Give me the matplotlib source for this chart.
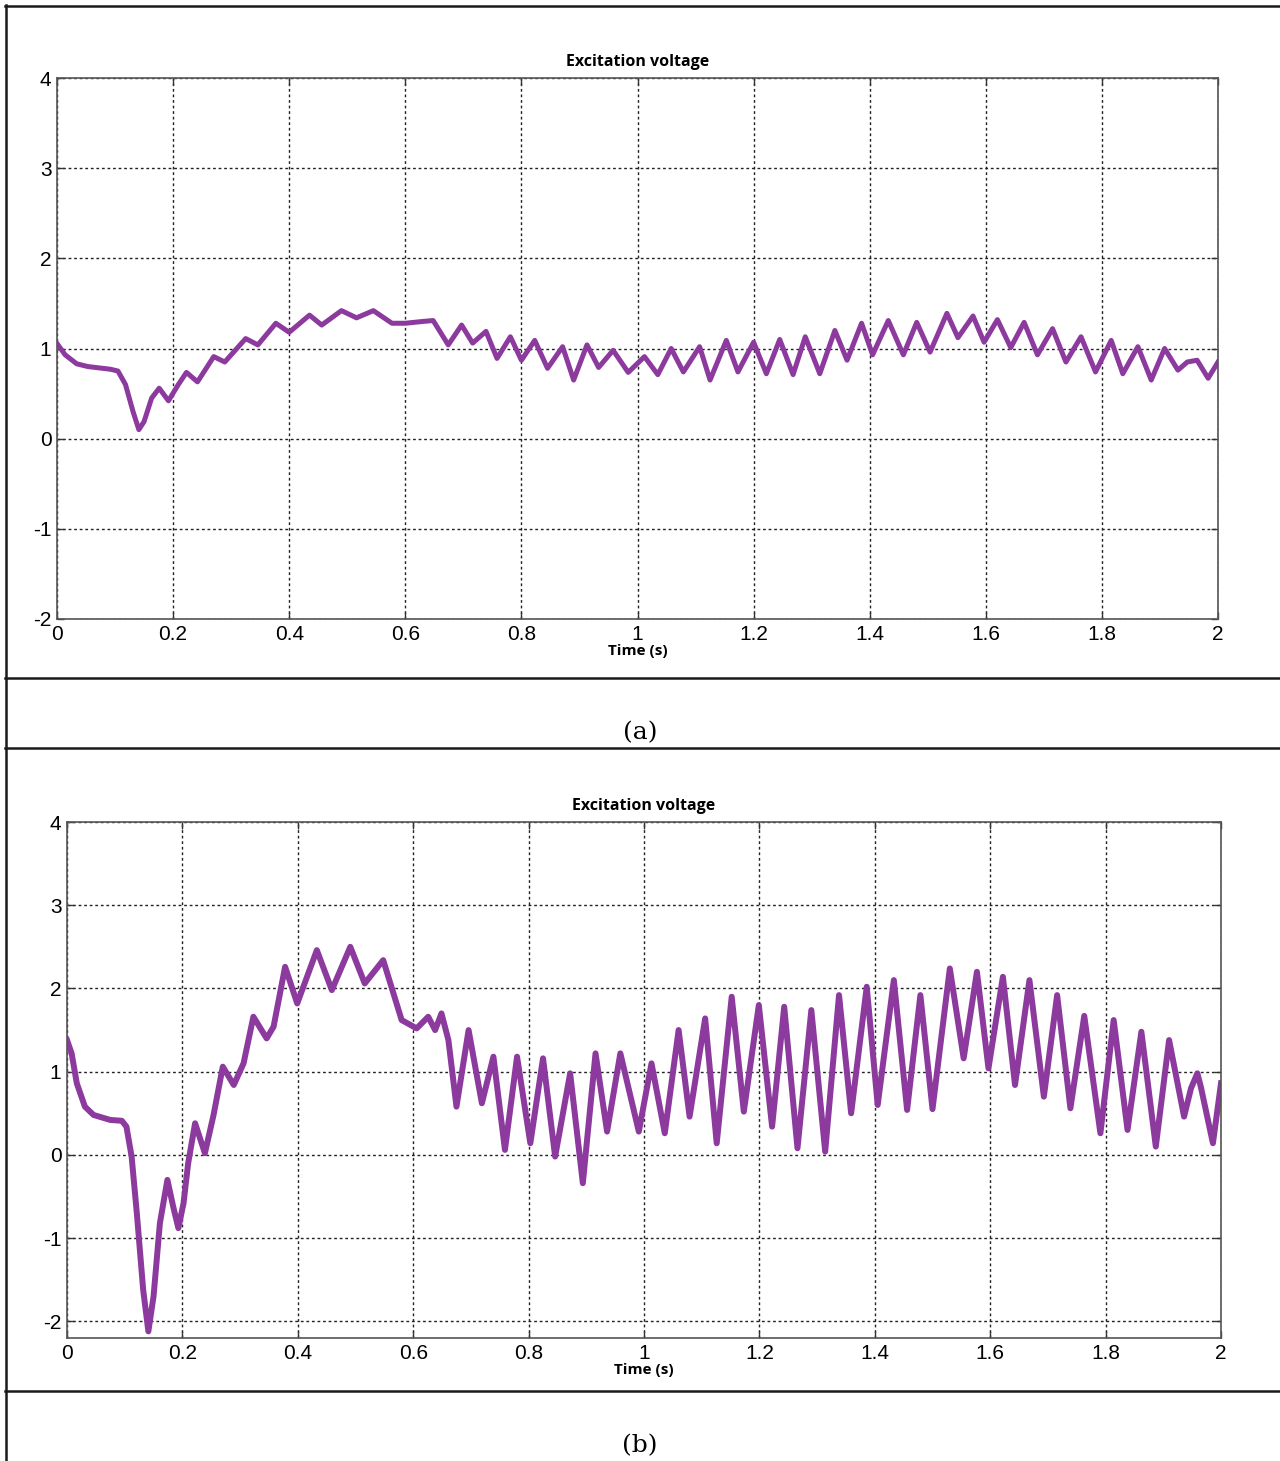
import matplotlib
matplotlib.use("Agg")
import matplotlib.pyplot as plt
from matplotlib.lines import Line2D

plt.rcParams['axes.unicode_minus'] = False

# (a) excitation voltage
t_a = [0.0, 0.014, 0.034, 0.053, 0.092, 0.105, 0.118, 0.131, 0.141, 0.15,
       0.163, 0.176, 0.192, 0.209, 0.223, 0.242, 0.27, 0.289, 0.325, 0.346,
       0.377, 0.4, 0.435, 0.456, 0.49, 0.516, 0.545, 0.577, 0.6, 0.63,
       0.648, 0.674, 0.697, 0.716, 0.739, 0.758, 0.781, 0.8, 0.823, 0.845,
       0.871, 0.89, 0.913, 0.933, 0.958, 0.984, 1.012, 1.035, 1.058, 1.079,
       1.107, 1.125, 1.153, 1.173, 1.2, 1.222, 1.245, 1.268, 1.289, 1.314,
       1.34, 1.361, 1.386, 1.405, 1.432, 1.458, 1.481, 1.504, 1.533, 1.552,
       1.578, 1.597, 1.62, 1.643, 1.666, 1.689, 1.715, 1.738, 1.764, 1.789,
       1.816, 1.836, 1.862, 1.885, 1.908, 1.931, 1.947, 1.964, 1.983, 2.0]
v_a = [1.055, 0.93, 0.83, 0.80, 0.77, 0.75, 0.60, 0.30, 0.10, 0.19,
       0.45, 0.56, 0.42, 0.60, 0.735, 0.63, 0.91, 0.85, 1.11, 1.04,
       1.28, 1.18, 1.37, 1.26, 1.42, 1.34, 1.42, 1.28, 1.28, 1.30,
       1.31, 1.04, 1.26, 1.06, 1.19, 0.89, 1.13, 0.87, 1.09, 0.78,
       1.02, 0.65, 1.04, 0.79, 0.98, 0.735, 0.91, 0.71, 1.0, 0.74,
       1.02, 0.65, 1.09, 0.74, 1.07, 0.72, 1.10, 0.71, 1.13, 0.72,
       1.20, 0.87, 1.28, 0.93, 1.31, 0.93, 1.29, 0.96, 1.39, 1.12,
       1.36, 1.07, 1.32, 1.01, 1.29, 0.93, 1.22, 0.85, 1.13, 0.74,
       1.09, 0.72, 1.02, 0.65, 1.0, 0.76, 0.85, 0.87, 0.67, 0.85]

# (b) excitation voltage
t_b = [0.0, 0.008, 0.017, 0.031, 0.046, 0.075, 0.095, 0.103, 0.112, 0.121,
       0.132, 0.141, 0.15, 0.161, 0.174, 0.184, 0.193, 0.202, 0.21, 0.222,
       0.239, 0.254, 0.27, 0.289, 0.306, 0.323, 0.346, 0.358, 0.378, 0.399,
       0.433, 0.459, 0.491, 0.516, 0.548, 0.58, 0.606, 0.626, 0.638, 0.649,
       0.661, 0.675, 0.696, 0.719, 0.739, 0.759, 0.78, 0.803, 0.825, 0.846,
       0.872, 0.894, 0.916, 0.936, 0.959, 0.991, 1.013, 1.036, 1.06, 1.079,
       1.106, 1.126, 1.152, 1.173, 1.199, 1.222, 1.243, 1.266, 1.29, 1.314,
       1.338, 1.359, 1.386, 1.405, 1.433, 1.456, 1.479, 1.5, 1.53, 1.554,
       1.577, 1.597, 1.622, 1.643, 1.668, 1.693, 1.716, 1.739, 1.763, 1.791,
       1.814, 1.838, 1.862, 1.887, 1.91, 1.936, 1.948, 1.959, 1.965, 1.986,
       2.0]
v_b = [1.38, 1.22, 0.86, 0.58, 0.48, 0.42, 0.41, 0.34, -0.02, -0.7,
       -1.62, -2.12, -1.7, -0.82, -0.30, -0.62, -0.88, -0.58, -0.1, 0.38,
       0.02, 0.48, 1.06, 0.84, 1.1, 1.66, 1.40, 1.54, 2.26, 1.82,
       2.46, 1.98, 2.5, 2.06, 2.34, 1.62, 1.52, 1.66, 1.50, 1.70,
       1.38, 0.58, 1.5, 0.62, 1.18, 0.06, 1.18, 0.14, 1.16, -0.02,
       0.98, -0.34, 1.22, 0.28, 1.22, 0.28, 1.1, 0.26, 1.5, 0.46,
       1.64, 0.14, 1.9, 0.52, 1.8, 0.34, 1.78, 0.08, 1.74, 0.04,
       1.92, 0.5, 2.02, 0.6, 2.1, 0.54, 1.92, 0.55, 2.24, 1.16,
       2.2, 1.04, 2.14, 0.84, 2.1, 0.7, 1.92, 0.56, 1.67, 0.26,
       1.62, 0.3, 1.48, 0.1, 1.38, 0.46, 0.8, 0.98, 0.82, 0.14,
       0.86]

x_ticks = [0, 0.2, 0.4, 0.6, 0.8, 1, 1.2, 1.4, 1.6, 1.8, 2]
x_labels = ['0', '0.2', '0.4', '0.6', '0.8', '1', '1.2', '1.4', '1.6', '1.8', '2']
y_ticks = [-2, -1, 0, 1, 2, 3, 4]

LINE_COLOR = '#8C3A9E'
TICK_FONT = ['Liberation Sans', 'DejaVu Sans']
BOLD_FONT = ['Open Sans', 'DejaVu Sans']

W, H = 1280, 1461
fig = plt.figure(figsize=(W / 100, H / 100), dpi=100)


def px_rect(left, top, right, bottom):
    return [left / W, 1 - bottom / H, (right - left) / W, (bottom - top) / H]


def style_axes(ax, ylim):
    ax.set_xlim(0, 2)
    ax.set_ylim(*ylim)
    ax.set_xticks(x_ticks)
    ax.set_xticklabels(x_labels)
    ax.set_yticks(y_ticks)
    ax.set_yticklabels([str(v) for v in y_ticks])
    ax.grid(True, color='#222222', linestyle=(0, (2, 2)), linewidth=1.0)
    ax.tick_params(direction='in', length=5, width=1, top=True, right=True,
                   labelsize=15, pad=4, colors='#333333', labelcolor='black')
    for lab in ax.get_xticklabels() + ax.get_yticklabels():
        lab.set_family(TICK_FONT)
    for sp in ax.spines.values():
        sp.set_color('#555555')
        sp.set_linewidth(1.2)
    ax.set_title('Excitation voltage', fontsize=11.5, fontweight='bold',
                 family=BOLD_FONT, pad=9)
    ax.set_xlabel('Time (s)', fontsize=11, fontweight='bold',
                  family=BOLD_FONT, labelpad=0)


ax_a = fig.add_axes(px_rect(57, 78, 1218, 619))
ax_a.plot(t_a, v_a, color=LINE_COLOR, linewidth=3.6, solid_joinstyle='round')
style_axes(ax_a, (-2, 4))

ax_b = fig.add_axes(px_rect(67, 822, 1221, 1338))
ax_b.plot(t_b, v_b, color=LINE_COLOR, linewidth=4.3, solid_joinstyle='round')
style_axes(ax_b, (-2.2, 4))

# frame lines of the surrounding table
frame_kw = dict(color='#1a1a1a', linewidth=1.8, transform=fig.transFigure)
for y in [5.5, 678, 748, 1391]:
    fig.add_artist(Line2D([5 / W, 1], [1 - y / H, 1 - y / H], **frame_kw))
fig.add_artist(Line2D([5.5 / W, 5.5 / W], [1 - 5 / H, 0], **frame_kw))

fig.text(640 / W, 1 - 733 / H, '(a)', ha='center', va='center',
         fontsize=18, family='DejaVu Serif')
fig.text(640 / W, 1 - 1446 / H, '(b)', ha='center', va='center',
         fontsize=18, family='DejaVu Serif')

fig.savefig('out.png', dpi=100, facecolor='white')
